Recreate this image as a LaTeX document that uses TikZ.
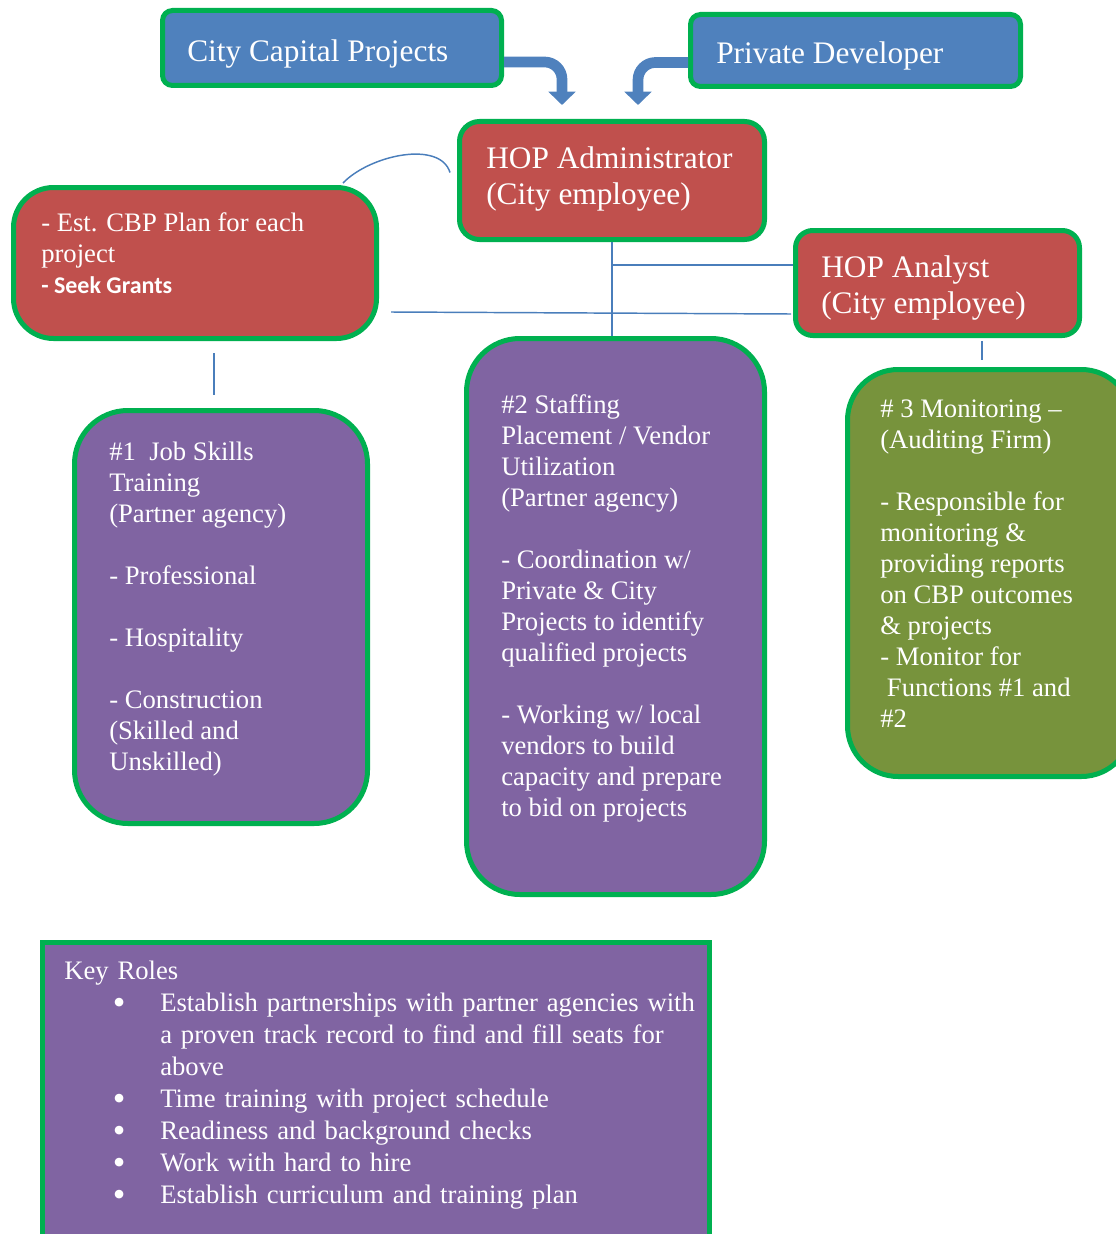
\documentclass[tikz,border=0pt]{standalone}
\usepackage{fontspec}
\setmainfont{Liberation Serif}
\newfontfamily\calibri{Carlito}
\usetikzlibrary{arrows.meta,calc}
\definecolor{hopblue}{HTML}{4F81BD}
\definecolor{hopred}{HTML}{C0504D}
\definecolor{hoppurple}{HTML}{8064A2}
\definecolor{hopolive}{HTML}{77933C}
\definecolor{hopgreen}{HTML}{00B050}
\definecolor{linkblue}{HTML}{4A7EBB}
\newcommand{\px}{0.75pt}
\newcommand{\rolebullet}{\smash{\raisebox{-2pt}{\fontsize{27}{24}\selectfont\textbullet}}}
\tikzset{
  box/.style={draw=hopgreen, line width=3.75pt, inner sep=0pt},
  bluebox/.style={box, fill=hopblue, rounded corners=7.5pt},
  redbox/.style={box, fill=hopred},
  purplebox/.style={box, fill=hoppurple, rounded corners=40pt},
  headtext/.style={text=white, anchor=north west, inner sep=0pt, align=left,
    font=\fontsize{23.5}{27}\selectfont},
  bodytext/.style={text=white, anchor=north west, inner sep=0pt, align=left,
    font=\fontsize{20}{23.25}\selectfont},
  link/.style={draw=linkblue, line width=1.1pt},
  bigarrow/.style={draw=hopblue, line width=8pt, rounded corners=13pt,
    -{Triangle[width=20pt,length=10pt]}},
}
\begin{document}
\begin{tikzpicture}[x=\px, y=-\px]
  \clip (0,0) rectangle (1116,1234);
  % boxes
  \node[bluebox, minimum width=339*\px, minimum height=75*\px] (cap) at (332,48) {};
  \node[bluebox, minimum width=330*\px, minimum height=72*\px] (dev) at (855.5,50.5) {};
  \node[redbox, rounded corners=15pt, minimum width=305*\px, minimum height=118*\px] (admin) at (612,180.5) {};
  \node[redbox, rounded corners=30pt, minimum width=363*\px, minimum height=151*\px] (plan) at (195,263) {};
  \node[redbox, rounded corners=13pt, minimum width=284*\px, minimum height=105*\px] (analyst) at (937.5,283) {};
  \node[purplebox, minimum width=293*\px, minimum height=413*\px] (skills) at (221,617) {};
  \node[purplebox, minimum width=298*\px, minimum height=556*\px] (staffing) at (615.5,616.5) {};
  \node[box, fill=hopolive, rounded corners=38pt, minimum width=284.5*\px, minimum height=407*\px] (monitor) at (989.75,573) {};
  \node[box, fill=hoppurple, minimum width=667*\px, minimum height=335*\px] (roles) at (376,1110) {};

  % texts
  \node[headtext] (captxt) at (187,39) {City Capital Projects};
  \node[headtext] (devtxt) at (716,41) {Private Developer};
  \node[headtext] (admintxt) at (486,146) {HOP Administrator\\(City employee)};
  \node[headtext] (analysttxt) at (821,255) {HOP Analyst\\(City employee)};
  \node[bodytext] (plantxt) at (41,212) {- Est. CBP Plan for each\\project\\
    {\calibri\bfseries\fontsize{18}{23.25}\selectfont - Seek Grants}};
  \node[bodytext] (skillstxt) at (109,442) {\#1\ \ Job Skills\\Training\\(Partner agency)\\[23.25pt]
    - Professional\\[23.25pt]- Hospitality\\[23.25pt]- Construction\\(Skilled and\\Unskilled)};
  \node[bodytext] (staffingtxt) at (501,394) {\#2 Staffing\\Placement / Vendor\\Utilization\\(Partner agency)\\[23.25pt]
    - Coordination w/\\Private \& City\\Projects to identify\\qualified projects\\[23.25pt]
    - Working w/ local\\vendors to build\\capacity and prepare\\to bid on projects};
  \node[bodytext] (monitortxt) at (880,400) {\# 3 Monitoring --\\(Auditing Firm)\\[23.25pt]
    - Responsible for\\monitoring \&\\providing reports\\on CBP outcomes\\\& projects\\
    - Monitor for\\\hspace*{0.25em}Functions \#1 and\\\#2};
  \node[bodytext, text width=600pt, font=\fontsize{20}{24}\selectfont] (rolestxt) at (64,961) {Key Roles
    \begin{list}{\rolebullet}{\setlength{\leftmargin}{72pt}\setlength{\labelwidth}{10pt}%
      \setlength{\labelsep}{26pt}\setlength{\topsep}{0pt}\setlength{\partopsep}{0pt}%
      \setlength{\itemsep}{0pt}\setlength{\parsep}{0pt}}\raggedright
    \item Establish partnerships with partner agencies with\\a proven track record to find and fill seats for\\above
    \item Time training with project schedule
    \item Readiness and background checks
    \item Work with hard to hire
    \item Establish curriculum and training plan
    \end{list}};

  % arrows into the administrator
  \coordinate (capin) at ($(admin.north)+(-50,-14)$);
  \coordinate (devin) at ($(admin.north)+(26,-14)$);
  \draw[bigarrow] ($(cap.east)+(0,14)$) -| (capin);
  \draw[bigarrow] ($(dev.west)+(0,12)$) -| (devin);

  % thin links
  \coordinate (tee) at ($(analyst.west)+(0,-18)$);
  \coordinate (mtop) at ($(analyst.south)+(44.5,3)$);
  \draw[link] ($(plan.north)+(148,-2)$) .. controls (370,155) and (440,140) .. ($(admin.west)+(-7,-8)$);
  \draw[link] (admin.south) -- (admin.south |- staffing.north);
  \draw[link] (admin.south |- tee) -- (tee);
  \draw[link] ($(plan.east)+(12,49)$) -- ($(analyst.west)+(-2,31)$);
  \draw[link] ($(plan.south)+(19,12)$) -- ($(skills.north)+(-7,-13)$);
  \draw[link] (mtop) -- ($(mtop |- monitor.north)+(0,-7)$);
\end{tikzpicture}
\end{document}
